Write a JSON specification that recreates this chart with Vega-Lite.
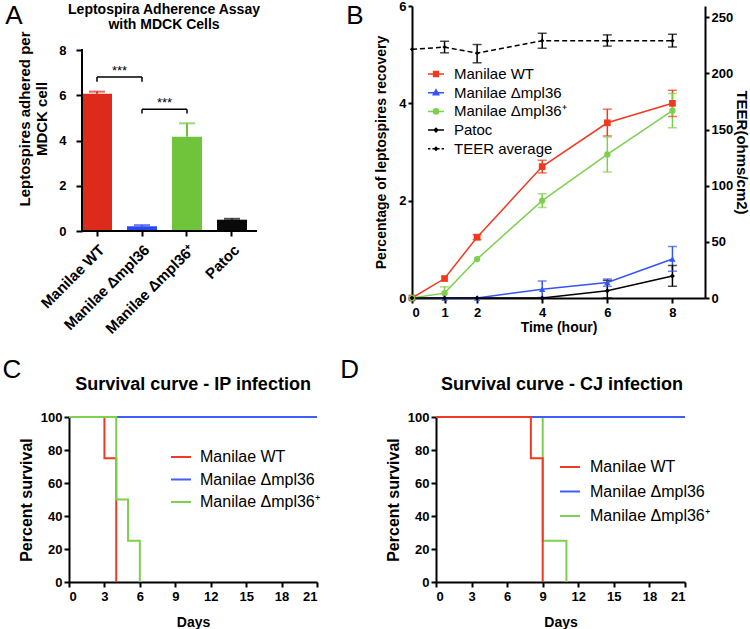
{
  "$schema": "https://vega.github.io/schema/vega-lite/v6.json",
  "background": "white",
  "padding": {"left": 2, "top": 0, "right": 0, "bottom": 0},
  "config": {
    "font": "Liberation Sans",
    "view": {"stroke": null},
    "axis": {"domainColor": "#000", "domainWidth": 2, "tickColor": "#000", "tickWidth": 2, "tickSize": 5, "labelColor": "#000", "labelFontWeight": "bold", "labelFontSize": 13, "titleFontWeight": "bold", "titleFontSize": 15, "titleColor": "#000", "grid": false, "labelOverlap": false},
    "legend": {"labelFontSize": 15, "labelColor": "#000", "padding": 0},
    "text": {"color": "#000"}
  },
  "datasets": {
    "bars": [
      {"strain": "Manilae WT", "value": 6.07, "hi": 6.16},
      {"strain": "Manilae Δmpl36", "value": 0.21, "hi": 0.26},
      {"strain": "Manilae Δmpl36⁺", "value": 4.17, "hi": 4.76},
      {"strain": "Patoc", "value": 0.5, "hi": 0.54}
    ],
    "brackets": [
      {"left": "Manilae WT", "right": "Manilae Δmpl36", "top": 6.81, "bottom": 6.6, "label": "***"},
      {"left": "Manilae Δmpl36", "right": "Manilae Δmpl36⁺", "top": 5.38, "bottom": 5.19, "label": "***"}
    ],
    "growth": [
      {"series": "Manilae WT", "time": 0, "value": 0},
      {"series": "Manilae WT", "time": 1, "value": 0.4},
      {"series": "Manilae WT", "time": 2, "value": 1.25, "lo": 1.2, "hi": 1.3},
      {"series": "Manilae WT", "time": 4, "value": 2.7, "lo": 2.57, "hi": 2.83},
      {"series": "Manilae WT", "time": 6, "value": 3.6, "lo": 3.33, "hi": 3.88},
      {"series": "Manilae WT", "time": 8, "value": 4.0, "lo": 3.73, "hi": 4.27},
      {"series": "Manilae Δmpl36", "time": 0, "value": 0},
      {"series": "Manilae Δmpl36", "time": 1, "value": 0},
      {"series": "Manilae Δmpl36", "time": 2, "value": 0},
      {"series": "Manilae Δmpl36", "time": 4, "value": 0.18, "lo": 0.01, "hi": 0.35},
      {"series": "Manilae Δmpl36", "time": 6, "value": 0.32, "lo": 0.24, "hi": 0.39},
      {"series": "Manilae Δmpl36", "time": 8, "value": 0.8, "lo": 0.55, "hi": 1.06},
      {"series": "Manilae Δmpl36⁺", "time": 0, "value": 0},
      {"series": "Manilae Δmpl36⁺", "time": 1, "value": 0.1, "lo": 0, "hi": 0.23},
      {"series": "Manilae Δmpl36⁺", "time": 2, "value": 0.8},
      {"series": "Manilae Δmpl36⁺", "time": 4, "value": 2.0, "lo": 1.86, "hi": 2.14},
      {"series": "Manilae Δmpl36⁺", "time": 6, "value": 2.95, "lo": 2.59, "hi": 3.31},
      {"series": "Manilae Δmpl36⁺", "time": 8, "value": 3.85, "lo": 3.5, "hi": 4.2},
      {"series": "Patoc", "time": 0, "value": 0},
      {"series": "Patoc", "time": 1, "value": 0},
      {"series": "Patoc", "time": 2, "value": 0},
      {"series": "Patoc", "time": 4, "value": 0},
      {"series": "Patoc", "time": 6, "value": 0.15, "lo": 0, "hi": 0.36},
      {"series": "Patoc", "time": 8, "value": 0.45, "lo": 0.24, "hi": 0.67}
    ],
    "teer": [
      {"time": 0, "teer": 221.4},
      {"time": 1, "teer": 223.4, "lo": 218.3, "hi": 228.6},
      {"time": 2, "teer": 218, "lo": 209.4, "hi": 225.7},
      {"time": 4, "teer": 229.1, "lo": 222.3, "hi": 235.7},
      {"time": 6, "teer": 229, "lo": 224.3, "hi": 234.3},
      {"time": 8, "teer": 229, "lo": 223.4, "hi": 234.9}
    ],
    "legendB": [
      {"series": "Manilae WT"},
      {"series": "Manilae Δmpl36"},
      {"series": "Manilae Δmpl36⁺"},
      {"series": "Patoc"},
      {"series": "TEER average"}
    ],
    "survC": [
      {"strain": "Manilae WT", "day": 0, "pct": 100},
      {"strain": "Manilae WT", "day": 3, "pct": 75},
      {"strain": "Manilae WT", "day": 4, "pct": 0},
      {"strain": "Manilae Δmpl36", "day": 0, "pct": 100},
      {"strain": "Manilae Δmpl36", "day": 21, "pct": 100},
      {"strain": "Manilae Δmpl36⁺", "day": 0, "pct": 100},
      {"strain": "Manilae Δmpl36⁺", "day": 4, "pct": 50},
      {"strain": "Manilae Δmpl36⁺", "day": 5, "pct": 25},
      {"strain": "Manilae Δmpl36⁺", "day": 6, "pct": 0}
    ],
    "survD": [
      {"strain": "Manilae Δmpl36⁺", "day": 0, "pct": 100},
      {"strain": "Manilae Δmpl36⁺", "day": 9, "pct": 25},
      {"strain": "Manilae Δmpl36⁺", "day": 11, "pct": 0},
      {"strain": "Manilae Δmpl36", "day": 0, "pct": 100},
      {"strain": "Manilae Δmpl36", "day": 21, "pct": 100},
      {"strain": "Manilae WT", "day": 0, "pct": 100},
      {"strain": "Manilae WT", "day": 8, "pct": 75},
      {"strain": "Manilae WT", "day": 9, "pct": 0}
    ]
  },
  "resolve": {"scale": {"x": "independent", "y": "independent", "color": "independent", "fill": "independent", "stroke": "independent", "shape": "independent"}},
  "columns": 1,
  "spacing": 20,
  "concat": [
    {
      "columns": 2,
      "spacing": 85,
      "resolve": {"scale": {"x": "independent", "y": "independent", "color": "independent", "fill": "independent", "stroke": "independent", "shape": "independent"}},
      "concat": [
        {
          "width": 187,
          "height": 225,
          "layer": [
            {
              "layer": [
                {
                  "data": {"name": "bars"},
                  "mark": {"type": "bar"},
                  "encoding": {
                    "x": {"field": "strain", "type": "nominal", "sort": null,
                      "scale": {"domain": ["Manilae WT", "Manilae Δmpl36", "Manilae Δmpl36⁺", "Patoc"], "paddingInner": 0.333, "paddingOuter": 0.2444, "align": 0.5909},
                      "axis": {"title": null, "domain": false, "labelAngle": -45, "labelFontSize": 15, "labelPadding": 6, "tickSize": 5}},
                    "y": {"field": "value", "type": "quantitative", "scale": {"domain": [0, 9.945], "nice": false},
                      "axis": {"values": [0, 2, 4, 6, 8], "domain": false, "offset": -13, "labelOverlap": false, "title": ["Leptospires adhered per", "MDCK cell"], "titleFontSize": 15, "titlePadding": 9, "labelPadding": 10, "tickSize": 6}},
                    "color": {"field": "strain", "type": "nominal", "scale": {"domain": ["Manilae WT", "Manilae Δmpl36", "Manilae Δmpl36⁺", "Patoc"], "range": ["#dd2b1b", "#2b49f0", "#6fc43b", "#0a0a0a"]}, "legend": null}
                  }
                },
                {
                  "data": {"name": "bars"},
                  "mark": {"type": "rule", "strokeWidth": 2},
                  "encoding": {
                    "x": {"field": "strain", "type": "nominal"},
                    "y": {"field": "value", "type": "quantitative"},
                    "y2": {"field": "hi"},
                    "color": {"field": "strain", "type": "nominal", "legend": null}
                  }
                },
                {
                  "data": {"name": "bars"},
                  "mark": {"type": "tick", "orient": "horizontal", "size": 16, "thickness": 2},
                  "encoding": {
                    "x": {"field": "strain", "type": "nominal"},
                    "y": {"field": "hi", "type": "quantitative"},
                    "color": {"field": "strain", "type": "nominal", "legend": null}
                  }
                },
                {
                  "data": {"name": "brackets"},
                  "mark": {"type": "rule", "strokeWidth": 1.5, "color": "#000"},
                  "encoding": {
                    "x": {"field": "left", "type": "nominal"},
                    "x2": {"field": "right"},
                    "y": {"field": "top", "type": "quantitative"}
                  }
                },
                {
                  "data": {"name": "brackets"},
                  "mark": {"type": "rule", "strokeWidth": 1.5, "color": "#000"},
                  "encoding": {
                    "x": {"field": "left", "type": "nominal"},
                    "y": {"field": "bottom", "type": "quantitative"},
                    "y2": {"field": "top"}
                  }
                },
                {
                  "data": {"name": "brackets"},
                  "mark": {"type": "rule", "strokeWidth": 1.5, "color": "#000"},
                  "encoding": {
                    "x": {"field": "right", "type": "nominal"},
                    "y": {"field": "bottom", "type": "quantitative"},
                    "y2": {"field": "top"}
                  }
                },
                {
                  "data": {"name": "brackets"},
                  "mark": {"type": "text", "fontSize": 13, "baseline": "alphabetic", "dy": -2},
                  "encoding": {
                    "x": {"field": "left", "type": "nominal", "bandPosition": 1.25},
                    "y": {"field": "top", "type": "quantitative"},
                    "text": {"field": "label"}
                  }
                }
              ]
            },
            {
              "data": {"values": [{}]},
              "layer": [
                {
                  "mark": {"type": "rule", "strokeWidth": 2, "color": "#000", "strokeCap": "square"},
                  "encoding": {
                    "x": {"datum": 0.0695, "type": "quantitative", "scale": {"domain": [0, 1]}, "axis": null},
                    "y": {"datum": 0, "type": "quantitative"},
                    "y2": {"datum": 8}
                  }
                },
                {
                  "mark": {"type": "rule", "strokeWidth": 2, "color": "#000", "strokeCap": "square"},
                  "encoding": {
                    "x": {"datum": 0.0695, "type": "quantitative"},
                    "x2": {"datum": 1},
                    "y": {"datum": 0, "type": "quantitative"}
                  }
                },
                {
                  "mark": {"type": "text", "text": "A", "fontSize": 26, "baseline": "alphabetic"},
                  "encoding": {
                    "x": {"datum": -0.294, "type": "quantitative"},
                    "y": {"datum": 9.15, "type": "quantitative"}
                  }
                },
                {
                  "mark": {"type": "text", "text": ["Leptospira Adherence Assay", "with MDCK Cells"], "fontSize": 14, "fontWeight": "bold", "lineHeight": 14.5, "baseline": "alphabetic"},
                  "encoding": {
                    "x": {"datum": 0.508, "type": "quantitative"},
                    "y": {"datum": 9.58, "type": "quantitative"}
                  }
                }
              ]
            }
          ],
          "resolve": {"scale": {"x": "independent"}}
        },
        {
          "width": 293,
          "height": 292,
          "layer": [
            {
              "layer": [
                {
                  "data": {"name": "growth"},
                  "transform": [{"filter": {"field": "hi", "valid": true}}],
                  "mark": {"type": "rule", "strokeWidth": 1.5},
                  "encoding": {
                    "x": {"field": "time", "type": "quantitative", "scale": {"domain": [0, 9], "nice": false},
                      "axis": {"values": [0, 1, 2, 4, 6, 8], "labelOverlap": false, "title": "Time (hour)", "titleFontSize": 14, "titlePadding": 1, "labelPadding": 3}},
                    "y": {"field": "lo", "type": "quantitative", "scale": {"domain": [0, 6]},
                      "axis": {"values": [0, 2, 4, 6], "labelOverlap": false, "title": "Percentage of leptospires recovery", "titleFontSize": 14, "titlePadding": 10, "labelPadding": 2, "tickSize": 4}},
                    "y2": {"field": "hi"},
                    "color": {"field": "series", "type": "nominal",
                      "scale": {"domain": ["Manilae WT", "Manilae Δmpl36", "Manilae Δmpl36⁺", "Patoc"], "range": ["#f0391f", "#3553f7", "#7dd04c", "#000000"]},
                      "legend": null}
                  }
                },
                {
                  "data": {"name": "growth"},
                  "transform": [{"filter": {"field": "hi", "valid": true}}],
                  "mark": {"type": "tick", "orient": "horizontal", "size": 9, "thickness": 1.5},
                  "encoding": {
                    "x": {"field": "time", "type": "quantitative"},
                    "y": {"field": "lo", "type": "quantitative"},
                    "color": {"field": "series", "type": "nominal", "legend": null}
                  }
                },
                {
                  "data": {"name": "growth"},
                  "transform": [{"filter": {"field": "hi", "valid": true}}],
                  "mark": {"type": "tick", "orient": "horizontal", "size": 9, "thickness": 1.5},
                  "encoding": {
                    "x": {"field": "time", "type": "quantitative"},
                    "y": {"field": "hi", "type": "quantitative"},
                    "color": {"field": "series", "type": "nominal", "legend": null}
                  }
                },
                {
                  "data": {"name": "growth"},
                  "mark": {"type": "line", "strokeWidth": 1.5},
                  "encoding": {
                    "x": {"field": "time", "type": "quantitative"},
                    "y": {"field": "value", "type": "quantitative"},
                    "color": {"field": "series", "type": "nominal", "legend": null}
                  }
                },
                {
                  "data": {"name": "growth"},
                  "transform": [{"filter": {"field": "series", "equal": "Manilae WT"}}],
                  "mark": {"type": "point", "shape": "square", "filled": true, "size": 45, "opacity": 1},
                  "encoding": {
                    "x": {"field": "time", "type": "quantitative"},
                    "y": {"field": "value", "type": "quantitative"},
                    "color": {"field": "series", "type": "nominal", "legend": null}
                  }
                },
                {
                  "data": {"name": "growth"},
                  "transform": [{"filter": {"field": "series", "equal": "Manilae Δmpl36"}}],
                  "mark": {"type": "point", "shape": "triangle-up", "filled": true, "size": 40, "opacity": 1},
                  "encoding": {
                    "x": {"field": "time", "type": "quantitative"},
                    "y": {"field": "value", "type": "quantitative"},
                    "color": {"field": "series", "type": "nominal", "legend": null}
                  }
                },
                {
                  "data": {"name": "growth"},
                  "transform": [{"filter": {"field": "series", "equal": "Manilae Δmpl36⁺"}}],
                  "mark": {"type": "point", "shape": "circle", "filled": true, "size": 40, "opacity": 1},
                  "encoding": {
                    "x": {"field": "time", "type": "quantitative"},
                    "y": {"field": "value", "type": "quantitative"},
                    "color": {"field": "series", "type": "nominal", "legend": null}
                  }
                },
                {
                  "data": {"name": "growth"},
                  "transform": [{"filter": {"field": "series", "equal": "Patoc"}}],
                  "mark": {"type": "point", "shape": "diamond", "filled": true, "size": 25, "opacity": 1},
                  "encoding": {
                    "x": {"field": "time", "type": "quantitative"},
                    "y": {"field": "value", "type": "quantitative"},
                    "color": {"field": "series", "type": "nominal", "legend": null}
                  }
                },
                {
                  "data": {"name": "legendB"},
                  "mark": {"type": "point", "filled": true, "opacity": 0},
                  "encoding": {
                    "x": {"datum": 1, "type": "quantitative"},
                    "y": {"datum": 1, "type": "quantitative"},
                    "shape": {"field": "series", "type": "nominal",
                      "scale": {"domain": ["Manilae WT", "Manilae Δmpl36", "Manilae Δmpl36⁺", "Patoc", "TEER average"],
                        "range": [
                          "M-1,0H1M-0.3,-0.3H0.3V0.3H-0.3Z",
                          "M-1,0H1M0,-0.36L0.34,0.26H-0.34Z",
                          "M-1,0H1M-0.32,0A0.32,0.32,0,1,0,0.32,0A0.32,0.32,0,1,0,-0.32,0Z",
                          "M-1,0H1M0,-0.22L0.22,0L0,0.22L-0.22,0Z",
                          "M-1,0H-0.7M-0.45,0H-0.15M0.15,0H0.45M0.7,0H1M0,-0.18L0.18,0L0,0.18L-0.18,0Z"
                        ]},
                      "legend": {"orient": "none", "legendX": 15, "legendY": 59, "title": null, "symbolSize": 256, "symbolStrokeWidth": 1.5, "labelFontSize": 15, "rowPadding": 1.7, "labelOffset": 9,
                        "encode": {"symbols": {"update": {"opacity": {"value": 1}}}}}},
                    "fill": {"field": "series", "type": "nominal",
                      "scale": {"domain": ["Manilae WT", "Manilae Δmpl36", "Manilae Δmpl36⁺", "Patoc", "TEER average"], "range": ["#f0391f", "#3553f7", "#7dd04c", "#000000", "#000000"]},
                      "legend": {"orient": "none", "legendX": 15, "legendY": 59, "title": null, "symbolSize": 256, "symbolStrokeWidth": 1.5, "labelFontSize": 15, "rowPadding": 1.7, "labelOffset": 9,
                        "encode": {"symbols": {"update": {"opacity": {"value": 1}}}}}},
                    "stroke": {"field": "series", "type": "nominal",
                      "scale": {"domain": ["Manilae WT", "Manilae Δmpl36", "Manilae Δmpl36⁺", "Patoc", "TEER average"], "range": ["#f0391f", "#3553f7", "#7dd04c", "#000000", "#000000"]},
                      "legend": {"orient": "none", "legendX": 15, "legendY": 59, "title": null, "symbolSize": 256, "symbolStrokeWidth": 1.5, "labelFontSize": 15, "rowPadding": 1.7, "labelOffset": 9,
                        "encode": {"symbols": {"update": {"opacity": {"value": 1}}}}}}
                  }
                },
                {
                  "data": {"values": [{}]},
                  "mark": {"type": "text", "text": "B", "fontSize": 26, "baseline": "alphabetic"},
                  "encoding": {
                    "x": {"datum": -1.75, "type": "quantitative"},
                    "y": {"datum": 5.63, "type": "quantitative"}
                  }
                }
              ]
            },
            {
              "data": {"name": "teer"},
              "layer": [
                {
                  "mark": {"type": "line", "strokeDash": [5, 3], "strokeWidth": 1.5, "color": "#000"},
                  "encoding": {
                    "x": {"field": "time", "type": "quantitative"},
                    "y": {"field": "teer", "type": "quantitative", "scale": {"domain": [0, 250]},
                      "axis": {"orient": "right", "values": [0, 50, 100, 150, 200, 250], "labelOverlap": false, "title": "TEER(ohms/cm2)", "titleFontSize": 15, "titlePadding": 1, "labelPadding": 2, "tickSize": 4}}
                  }
                },
                {
                  "transform": [{"filter": {"field": "hi", "valid": true}}],
                  "mark": {"type": "rule", "strokeWidth": 1.5, "color": "#000"},
                  "encoding": {
                    "x": {"field": "time", "type": "quantitative"},
                    "y": {"field": "lo", "type": "quantitative"},
                    "y2": {"field": "hi"}
                  }
                },
                {
                  "transform": [{"filter": {"field": "hi", "valid": true}}],
                  "mark": {"type": "tick", "orient": "horizontal", "size": 9, "thickness": 1.5, "color": "#000"},
                  "encoding": {
                    "x": {"field": "time", "type": "quantitative"},
                    "y": {"field": "lo", "type": "quantitative"}
                  }
                },
                {
                  "transform": [{"filter": {"field": "hi", "valid": true}}],
                  "mark": {"type": "tick", "orient": "horizontal", "size": 9, "thickness": 1.5, "color": "#000"},
                  "encoding": {
                    "x": {"field": "time", "type": "quantitative"},
                    "y": {"field": "hi", "type": "quantitative"}
                  }
                },
                {
                  "mark": {"type": "point", "shape": "diamond", "filled": true, "size": 18, "color": "#000", "opacity": 1},
                  "encoding": {
                    "x": {"field": "time", "type": "quantitative"},
                    "y": {"field": "teer", "type": "quantitative"}
                  }
                }
              ]
            }
          ],
          "resolve": {"scale": {"y": "independent"}}
        }
      ]
    },
    {
      "columns": 2,
      "spacing": 19,
      "resolve": {"scale": {"x": "independent", "y": "independent", "color": "independent"}},
      "concat": [
        {
          "width": 248,
          "height": 165,
          "layer": [
            {
              "data": {"name": "survC"},
              "mark": {"type": "line", "interpolate": "step-after", "strokeWidth": 2},
              "encoding": {
                "x": {"field": "day", "type": "quantitative", "scale": {"domain": [0, 21], "nice": false},
                  "axis": {"values": [0, 3, 6, 9, 12, 15, 18, 21], "labelOverlap": false, "title": "Days", "titleFontSize": 14, "titlePadding": 12, "labelPadding": 3}},
                "y": {"field": "pct", "type": "quantitative", "scale": {"domain": [0, 100]},
                  "axis": {"values": [0, 20, 40, 60, 80, 100], "labelOverlap": false, "title": "Percent survival", "titleFontSize": 16, "titlePadding": 6, "labelPadding": 2}},
                "color": {"field": "strain", "type": "nominal",
                  "scale": {"domain": ["Manilae WT", "Manilae Δmpl36", "Manilae Δmpl36⁺"], "range": ["#f03a21", "#3f5efb", "#7ed04f"]},
                  "legend": {"orient": "none", "legendX": 101, "legendY": 29, "title": null, "symbolType": "stroke", "symbolSize": 400, "symbolStrokeWidth": 2, "labelFontSize": 16, "rowPadding": 3.5, "labelOffset": 8}}
              }
            },
            {
              "data": {"values": [{}]},
              "layer": [
                {
                  "mark": {"type": "text", "text": "C", "fontSize": 26, "baseline": "alphabetic"},
                  "encoding": {
                    "x": {"datum": -0.23, "type": "quantitative", "scale": {"domain": [0, 1]}, "axis": null},
                    "y": {"datum": 1.236, "type": "quantitative", "scale": {"domain": [0, 1]}, "axis": null}
                  }
                },
                {
                  "mark": {"type": "text", "text": "Survival curve - IP infection", "fontSize": 18, "fontWeight": "bold", "baseline": "alphabetic"},
                  "encoding": {
                    "x": {"datum": 0.5, "type": "quantitative"},
                    "y": {"datum": 1.164, "type": "quantitative"}
                  }
                }
              ]
            }
          ],
          "resolve": {"scale": {"x": "independent", "y": "independent"}}
        },
        {
          "width": 249,
          "height": 165,
          "layer": [
            {
              "data": {"name": "survD"},
              "mark": {"type": "line", "interpolate": "step-after", "strokeWidth": 2},
              "encoding": {
                "x": {"field": "day", "type": "quantitative", "scale": {"domain": [0, 21], "nice": false},
                  "axis": {"values": [0, 3, 6, 9, 12, 15, 18, 21], "labelOverlap": false, "title": "Days", "titleFontSize": 14, "titlePadding": 12, "labelPadding": 3}},
                "y": {"field": "pct", "type": "quantitative", "scale": {"domain": [0, 100]},
                  "axis": {"values": [0, 20, 40, 60, 80, 100], "labelOverlap": false, "title": "Percent survival", "titleFontSize": 16, "titlePadding": 6, "labelPadding": 2}},
                "color": {"field": "strain", "type": "nominal",
                  "scale": {"domain": ["Manilae WT", "Manilae Δmpl36", "Manilae Δmpl36⁺"], "range": ["#f03a21", "#3f5efb", "#7ed04f"]},
                  "legend": {"orient": "none", "legendX": 123, "legendY": 39, "title": null, "symbolType": "stroke", "symbolSize": 400, "symbolStrokeWidth": 2, "labelFontSize": 16, "rowPadding": 5.5, "labelOffset": 9}}
              }
            },
            {
              "data": {"values": [{}]},
              "layer": [
                {
                  "mark": {"type": "text", "text": "D", "fontSize": 26, "baseline": "alphabetic"},
                  "encoding": {
                    "x": {"datum": -0.347, "type": "quantitative", "scale": {"domain": [0, 1]}, "axis": null},
                    "y": {"datum": 1.236, "type": "quantitative", "scale": {"domain": [0, 1]}, "axis": null}
                  }
                },
                {
                  "mark": {"type": "text", "text": "Survival curve - CJ infection", "fontSize": 18, "fontWeight": "bold", "baseline": "alphabetic"},
                  "encoding": {
                    "x": {"datum": 0.506, "type": "quantitative"},
                    "y": {"datum": 1.164, "type": "quantitative"}
                  }
                }
              ]
            }
          ],
          "resolve": {"scale": {"x": "independent", "y": "independent"}}
        }
      ]
    }
  ]
}
